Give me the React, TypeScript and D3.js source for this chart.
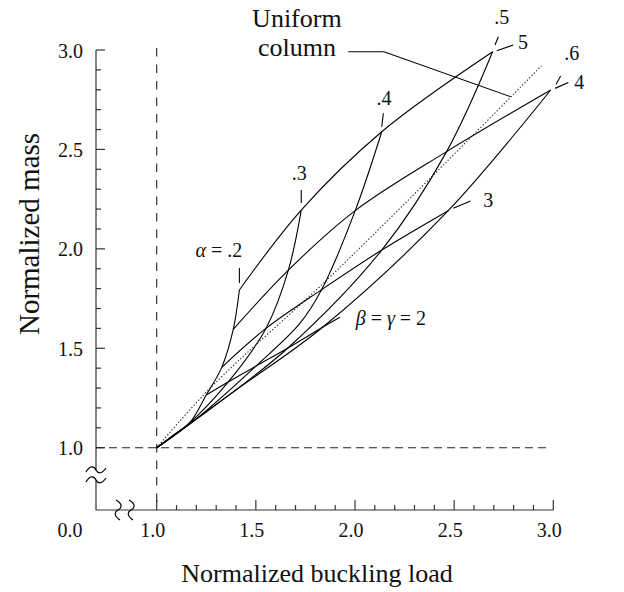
import React from 'react';
import * as d3 from 'd3';

const W = 624;
const H = 592;

// nodes: [load, mass], from the origin up through beta = 2,3,4,5
const alpha2 = [[1, 1], [1.1, 1.075], [1.17, 1.13], [1.25, 1.265], [1.328, 1.404], [1.386, 1.595], [1.417, 1.793]];
const alpha3 = [[1, 1], [1.15, 1.11], [1.36, 1.33], [1.551, 1.6], [1.664, 1.893], [1.729, 2.195]];
const alpha4 = [[1, 1], [1.2, 1.145], [1.5, 1.41], [1.723, 1.626], [1.832, 1.795], [2.001, 2.192], [2.135, 2.589]];
const alpha5 = [[1, 1], [1.3, 1.217], [1.66, 1.5], [2.135, 1.994], [2.462, 2.489], [2.694, 2.991]];
const alpha6 = [[1, 1], [1.4, 1.29], [1.84, 1.608], [2.47, 2.192], [2.987, 2.799]];

const beta2 = [[1.25, 1.265], [1.36, 1.33], [1.5, 1.41], [1.66, 1.5], [1.84, 1.608]];
const beta3 = [[1.328, 1.404], [1.551, 1.6], [1.832, 1.795], [2.135, 1.994], [2.47, 2.192]];
const beta4 = [[1.386, 1.595], [1.664, 1.893], [2.001, 2.192], [2.462, 2.489], [2.987, 2.799]];
const beta5 = [[1.417, 1.793], [1.729, 2.195], [2.135, 2.589], [2.694, 2.991]];

const uniform = [[1, 1], [1.277, 1.307], [1.857, 1.843], [2.37, 2.346], [2.94, 2.92]];

const xTicks = d3.range(10, 31).map(d => d / 10);
const yTicks = d3.range(10, 31).map(d => d / 10);
const xTickLabels = ['1.0', '1.5', '2.0', '2.5', '3.0'];
const yTickLabels = ['1.0', '1.5', '2.0', '2.5', '3.0'];

// curve labels: text, label position, pointer segment (all in data units)
const curveLabels = [
  { text: '.3', at: [1.719, 2.38], tick: [[1.729, 2.296], [1.729, 2.231]] },
  { text: '.4', at: [2.146, 2.757], tick: [[2.143, 2.682], [2.135, 2.614]] },
  { text: '.5', at: [2.74, 3.167], tick: [[2.723, 3.067], [2.706, 3.025]] },
  { text: '.6', at: [3.093, 2.983], tick: [[3.037, 2.869], [3.014, 2.828]] },
  { text: '5', at: [2.847, 3.042], tick: [[2.715, 2.996], [2.798, 3.025]] },
  { text: '4', at: [3.131, 2.841], tick: [[3.009, 2.807], [3.076, 2.836]] },
  { text: '3', at: [2.672, 2.246], tick: [[2.496, 2.204], [2.583, 2.241]] },
];
const alphaLabel = { at: [1.314, 1.994], tick: [[1.417, 1.904], [1.417, 1.828]] };
const betaLabel = { at: [2.181, 1.651], tick: [[1.84, 1.608], [1.924, 1.656]] };
const uniformLabel = { lines: ['Uniform', 'column'], x: 1.707, y: [3.115, 2.969] };
const uniformLeader = [[1.966, 2.991], [2.146, 2.991], [2.785, 2.765]];

const FONT = '"Liberation Serif", "Times New Roman", serif';

export default function App() {
  const x = d3.scaleLinear().domain([1, 3]).range([156.7, 553.3]);
  const y = d3.scaleLinear().domain([1, 3]).range([447.7, 50]);
  const axisLeftX = 96;
  const axisBottomY = 510;

  const curve = d3.line<number[]>()
    .x(d => x(d[0]))
    .y(d => y(d[1]))
    .curve(d3.curveCatmullRom.alpha(0.5));
  const straight = d3.line<number[]>().x(d => x(d[0])).y(d => y(d[1]));

  const squiggleH = (cx: number, cy: number) =>
    `M${cx - 10},${cy + 2} C${cx - 6},${cy - 5} ${cx - 2},${cy - 4} ${cx},${cy} S${cx + 6},${cy + 4} ${cx + 10},${cy - 2}`;
  const squiggleV = (cx: number, cy: number) =>
    `M${cx - 2},${cy - 10} C${cx + 5},${cy - 6} ${cx + 4},${cy - 2} ${cx},${cy} S${cx - 4},${cy + 6} ${cx + 2},${cy + 10}`;

  return (
    <svg width={W} height={H} style={{ position: 'absolute', left: 0, top: 0, background: '#fff' }}
      fontFamily={FONT}>
      {/* axes */}
      <g stroke="#333" strokeWidth={1.2} fill="none">
        <path d={`M${axisLeftX},${y(3)}V470.5M${axisLeftX},479.5V${axisBottomY}H${x(3)}`} />
        {xTicks.map((t, i) => (
          <line key={'xt' + i} x1={x(t)} x2={x(t)} y1={axisBottomY}
            y2={axisBottomY - (i % 5 === 0 ? 10 : 5)} />
        ))}
        {yTicks.map((t, i) => (
          <line key={'yt' + i} y1={y(t)} y2={y(t)} x1={axisLeftX}
            x2={axisLeftX + (i % 5 === 0 ? 9 : 5)} />
        ))}
        <path d={squiggleH(axisLeftX, 470)} stroke="#000" />
        <path d={squiggleH(axisLeftX, 480)} stroke="#000" />
        <path d={squiggleV(118, axisBottomY)} stroke="#000" />
        <path d={squiggleV(131, axisBottomY)} stroke="#000" />
      </g>
      <g fontSize={20} fill="#111">
        {xTickLabels.map(l => (
          <text key={'xl' + l} x={x(+l) - 4} y={536.5} textAnchor="middle">{l}</text>
        ))}
        <text x={70} y={536.5} textAnchor="middle">0.0</text>
        {yTickLabels.map(l => (
          <text key={'yl' + l} x={83} y={y(+l) + 7.5} textAnchor="end">{l}</text>
        ))}
      </g>

      {/* reference dashes at unit load and unit mass */}
      <g stroke="#222" strokeWidth={1.1} fill="none">
        <line x1={x(1)} x2={x(1)} y1={y(3) - 2} y2={axisBottomY} strokeDasharray="8.5,8" />
        <line x1={axisLeftX} x2={x(3) - 3} y1={y(1)} y2={y(1)} strokeDasharray="8,5" />
      </g>

      {/* uniform column */}
      <path d={curve(uniform) || ''} fill="none" stroke="#222" strokeWidth={1.1} strokeDasharray="1.3,2" />

      {/* design curves */}
      <g fill="none" stroke="#000" strokeWidth={1.1}>
        {[alpha2, alpha3, alpha4, alpha5, alpha6].map((c, i) => (
          <path key={'a' + i} d={curve(c) || ''} />
        ))}
        {[beta2, beta3, beta4, beta5].map((c, i) => (
          <path key={'b' + i} d={curve(c) || ''} />
        ))}
        {curveLabels.map(l => (
          <path key={'lt' + l.text} d={straight(l.tick) || ''} />
        ))}
        <path d={straight(alphaLabel.tick) || ''} />
        <path d={straight(betaLabel.tick) || ''} />
        <path d={straight(uniformLeader) || ''} />
      </g>

      <g fontSize={20} fill="#111" textAnchor="middle">
        {curveLabels.map(l => (
          <text key={'l' + l.text} x={x(l.at[0])} y={y(l.at[1])} dy="0.35em">{l.text}</text>
        ))}
        <text x={x(alphaLabel.at[0])} y={y(alphaLabel.at[1])} dy="0.35em">
          <tspan fontStyle="italic">α</tspan> = .2
        </text>
        <text x={x(betaLabel.at[0])} y={y(betaLabel.at[1])} dy="0.35em">
          <tspan fontStyle="italic">β</tspan> = <tspan fontStyle="italic">γ</tspan> = 2
        </text>
      </g>
      <g fontSize={26} fill="#111" textAnchor="middle">
        {uniformLabel.lines.map((t, i) => (
          <text key={t} x={x(uniformLabel.x)} y={y(uniformLabel.y[i])}>{t}</text>
        ))}
      </g>

      {/* axis titles */}
      <text x={317} y={582} fontSize={26} textAnchor="middle" fill="#111">Normalized buckling load</text>
      <text transform="translate(39,234) rotate(-90)" fontSize={29} textAnchor="middle" fill="#111">
        Normalized mass
      </text>
    </svg>
  );
}
